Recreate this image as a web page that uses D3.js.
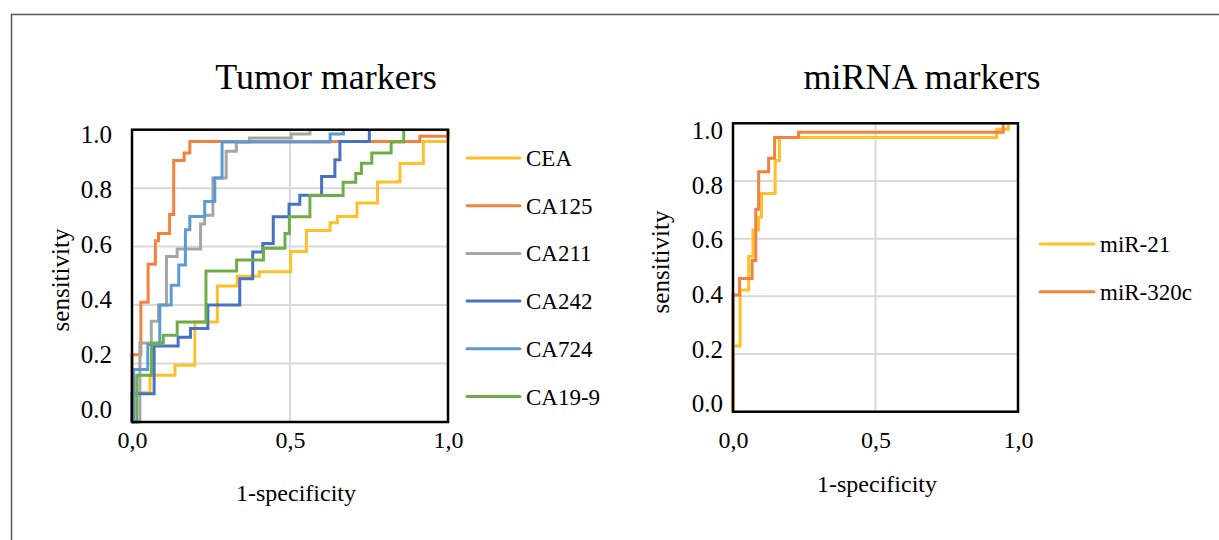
<!DOCTYPE html>
<html>
<head>
<meta charset="utf-8">
<script src="https://cdn.jsdelivr.net/npm/d3@7"></script>
<style>
  html, body { margin: 0; padding: 0; background: #fff; }
  svg text { font-family: "Liberation Serif", "Times New Roman", serif; fill: #000; }
</style>
</head>
<body>
<div id="chart"></div>
<script>
// ROC points [1-specificity, sensitivity]
const cea   = [[0,0],[0,0.10],[0.057,0.16],[0.136,0.194],[0.199,0.342],[0.270,0.465],[0.333,0.499],[0.403,0.514],[0.502,0.583],[0.552,0.655],[0.627,0.682],[0.650,0.703],[0.712,0.749],[0.777,0.821],[0.848,0.884],[0.922,0.96],[1,1]];
const ca125 = [[0,0],[0,0.23],[0.028,0.41],[0.051,0.54],[0.074,0.62],[0.084,0.645],[0.119,0.71],[0.132,0.895],[0.165,0.92],[0.183,0.96],[0.911,0.978],[1,1]];
const ca211 = [[0,0],[0.025,0.27],[0.061,0.345],[0.084,0.40],[0.109,0.566],[0.143,0.592],[0.217,0.677],[0.230,0.707],[0.256,0.835],[0.298,0.926],[0.330,0.958],[0.372,0.972],[0.504,0.985],[0.563,1]];
const ca242 = [[0,0],[0,0.097],[0.07,0.26],[0.146,0.29],[0.185,0.32],[0.24,0.40],[0.341,0.49],[0.382,0.582],[0.414,0.611],[0.447,0.702],[0.497,0.745],[0.531,0.776],[0.60,0.84],[0.642,0.897],[0.658,0.96],[0.751,1]];
const ca724 = [[0,0],[0.005,0.18],[0.05,0.265],[0.088,0.40],[0.124,0.468],[0.148,0.537],[0.169,0.658],[0.183,0.703],[0.230,0.754],[0.262,0.835],[0.285,0.958],[0.627,0.985],[0.669,1]];
const ca199 = [[0,0],[0.015,0.16],[0.062,0.27],[0.099,0.297],[0.143,0.342],[0.234,0.517],[0.331,0.554],[0.416,0.594],[0.484,0.645],[0.498,0.702],[0.563,0.775],[0.668,0.82],[0.708,0.85],[0.726,0.885],[0.759,0.92],[0.82,0.958],[0.86,1]];

const mir21   = [[0,0],[0,0.228],[0.025,0.422],[0.055,0.538],[0.07,0.63],[0.09,0.674],[0.1,0.757],[0.148,0.871],[0.163,0.951],[0.925,0.979],[0.966,1]];
const mir320c = [[0,0],[0,0.405],[0.023,0.462],[0.067,0.524],[0.08,0.702],[0.09,0.832],[0.125,0.879],[0.146,0.951],[0.23,0.969],[0.948,1]];

const tumorNames = ["CEA", "CA125", "CA211", "CA242", "CA724", "CA19-9"];
const tumorSeries = [cea, ca125, ca211, ca242, ca724, ca199];
const mirnaNames = ["miR-21", "miR-320c"];
const mirnaSeries = [mir21, mir320c];

const xTicks = [0, 0.5, 1];
const yTicks = [0, 0.2, 0.4, 0.6, 0.8, 1];

const colors = {
  "CEA": "#ffc02a", "CA125": "#f3823d", "CA211": "#a5a5a5",
  "CA242": "#4472c4", "CA724": "#5b9bd5", "CA19-9": "#70ad47",
  "miR-21": "#ffc02a", "miR-320c": "#f3823d"
};

const W = 1219, H = 540;
const svg = d3.select("#chart").append("svg")
  .attr("width", W).attr("height", H);

// outer frame (top and left edges visible)
svg.append("path")
  .attr("d", `M11.5,${H} V14.5 H${W}`)
  .attr("fill", "none").attr("stroke", "#5a5a5a").attr("stroke-width", 1.5);

function drawPanel(p) {
  const x = d3.scaleLinear().domain([0, 1]).range([p.left, p.right]);
  const y = d3.scaleLinear().domain([0, 1]).range([p.bottom, p.top]);
  // tick labels sit slightly inside the box ends, as in the source
  const yLab = d3.scaleLinear().domain([0, 1]).range(p.labelRange);
  const g = svg.append("g");

  g.append("text")
    .attr("x", p.titleX).attr("y", 89)
    .attr("text-anchor", "middle").style("font-size", "36px")
    .text(p.title);

  // grid
  g.selectAll(".hgrid").data(yTicks.filter(d => d > 0 && d < 1)).enter()
    .append("line")
    .attr("x1", p.left).attr("x2", p.right)
    .attr("y1", d => y(d)).attr("y2", d => y(d))
    .attr("stroke", "#d9d9d9").attr("stroke-width", 2);
  g.selectAll(".vgrid").data(xTicks.filter(d => d > 0 && d < 1)).enter()
    .append("line")
    .attr("x1", d => x(d)).attr("x2", d => x(d))
    .attr("y1", p.top).attr("y2", p.bottom)
    .attr("stroke", "#d9d9d9").attr("stroke-width", 2);

  // curves
  const line = d3.line()
    .x(d => x(d[0])).y(d => y(d[1]))
    .curve(d3.curveStepAfter);
  p.series.forEach((s, i) => {
    g.append("path")
      .datum(s)
      .attr("d", line)
      .attr("fill", "none")
      .attr("stroke", colors[p.names[i]])
      .attr("stroke-width", 3);
  });

  // plot box
  g.append("rect")
    .attr("x", p.left).attr("y", p.top)
    .attr("width", p.right - p.left).attr("height", p.bottom - p.top)
    .attr("fill", "none").attr("stroke", "#000").attr("stroke-width", 2.5);

  // y tick labels
  const yAxis = g.append("g")
    .attr("transform", `translate(${p.left - p.yLabelGap},0)`)
    .call(d3.axisLeft(yLab).tickValues(yTicks).tickSize(0).tickPadding(0)
      .tickFormat(d3.format(".1f")));
  yAxis.select(".domain").remove();
  yAxis.selectAll("text")
    .style("font-family", '"Liberation Serif", "Times New Roman", serif')
    .style("font-size", "25px").attr("fill", "#000").attr("dy", "0.35em");

  // x tick labels
  const xAxis = g.append("g")
    .attr("transform", `translate(0,${p.xLabelY})`)
    .call(d3.axisBottom(x).tickValues(xTicks).tickSize(0).tickPadding(0)
      .tickFormat(d => d3.format(".1f")(d).replace(".", ",")));
  xAxis.select(".domain").remove();
  xAxis.selectAll("text")
    .style("font-family", '"Liberation Serif", "Times New Roman", serif')
    .style("font-size", "24px").attr("fill", "#000").attr("dy", "0.35em")
    .attr("y", 0);

  // axis titles
  g.append("text")
    .attr("x", p.xTitleX).attr("y", p.xTitleY)
    .attr("text-anchor", "middle").attr("dy", "0.35em")
    .style("font-size", "24px").text("1-specificity");
  g.append("text")
    .attr("transform", `translate(${p.yTitleX},${p.yTitleY}) rotate(-90)`)
    .attr("text-anchor", "middle").attr("dy", "0.35em")
    .style("font-size", "25px").text("sensitivity");

  // legend
  const leg = g.selectAll(".leg").data(p.names).enter().append("g")
    .attr("transform", (d, i) => `translate(${p.legX},${p.legY + i * p.legStep})`);
  leg.append("line")
    .attr("x1", 0).attr("x2", p.legLen)
    .attr("stroke", d => colors[d]).attr("stroke-width", 3)
    .attr("stroke-linecap", "round");
  leg.append("text")
    .attr("x", p.legLen + 6).attr("dy", "0.35em")
    .style("font-size", "23px").text(d => d);
}

drawPanel({
  title: "Tumor markers", names: tumorNames, series: tumorSeries,
  left: 132, right: 448, top: 129.7, bottom: 422,
  titleX: 326, labelRange: [409, 134], yLabelGap: 20, xLabelY: 440,
  xTitleX: 296, xTitleY: 493, yTitleX: 60, yTitleY: 280,
  legX: 467, legY: 158, legStep: 47.7, legLen: 53
});

drawPanel({
  title: "miRNA markers", names: mirnaNames, series: mirnaSeries,
  left: 733, right: 1018, top: 123.3, bottom: 411.7,
  titleX: 922, labelRange: [403, 130], yLabelGap: 10, xLabelY: 440,
  xTitleX: 877, xTitleY: 484, yTitleX: 660, yTitleY: 262,
  legX: 1040, legY: 244, legStep: 47.7, legLen: 54
});
</script>
</body>
</html>
